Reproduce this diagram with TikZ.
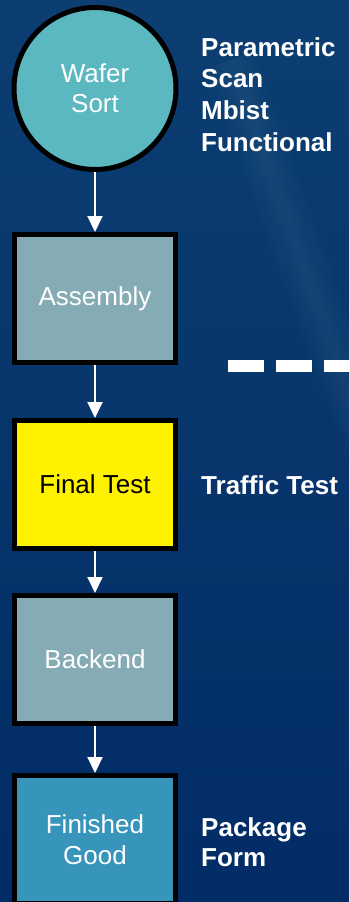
\documentclass[tikz,border=0pt]{standalone}
\usepackage{fontspec}
\setmainfont{Liberation Sans}
\usetikzlibrary{arrows.meta}
\definecolor{bgA}{RGB}{12,62,114}
\definecolor{bgB}{RGB}{2,44,102}
\definecolor{waferC}{RGB}{91,184,192}
\definecolor{grayC}{RGB}{133,171,181}
\definecolor{finC}{RGB}{55,149,187}
\begin{document}
\begin{tikzpicture}[x=1pt,y=-1pt,
  stage/.style={draw=black, line width=5pt, minimum width=161pt, minimum height=128pt,
    inner sep=0pt, text=white, align=center, font=\fontsize{26}{31}\selectfont},
  wafer/.style={circle, draw=black, line width=5pt, minimum size=162pt, inner sep=0pt,
    fill=waferC, text=white, align=center, font=\fontsize{26}{30}\selectfont},
  flow/.style={draw=white, line width=2pt, -{Triangle[width=15pt,length=16pt]}},
  lab/.style={text=white, align=left, inner sep=0pt, anchor=west,
    font=\bfseries\fontsize{26}{31.7}\selectfont}
]
\useasboundingbox (0,0) rectangle (349,902);
\shade[top color=bgA, bottom color=bgB] (0,0) rectangle (349,902);
\foreach \w in {10,20,30,40,50}
  \draw[white, opacity=0.012, line width=\w pt] (230,60) -- (380,480);

\node[wafer] (ws) at (95,88.5) {Wafer\\Sort};
\node[stage, fill=grayC] (as) at (95,298.5) {Assembly};
\node[stage, fill=yellow, text=black] (ft) at (95,484.5) {Final Test};
\node[stage, fill=grayC] (be) at (95,659.5) {Backend};
\node[stage, fill=finC] (fg) at (95,839.5) {Finished\\Good};

\draw[flow] (ws.south) -- (as.north);
\draw[flow] (as.south) -- (ft.north);
\draw[flow] (ft.south) -- (be.north);
\draw[flow] (be.south) -- (fg.north);

\node[lab] (l1) at (201,94.5) {Parametric\\Scan\\Mbist\\Functional};
\node[lab] (l2) at (201,485) {Traffic Test};
\node[lab, font=\bfseries\fontsize{26}{30}\selectfont] (l3) at (201,842) {Package\\Form};

\draw[white, line width=12pt, dash pattern=on 36pt off 12pt] (228,366) -- (352,366);
\end{tikzpicture}
\end{document}
